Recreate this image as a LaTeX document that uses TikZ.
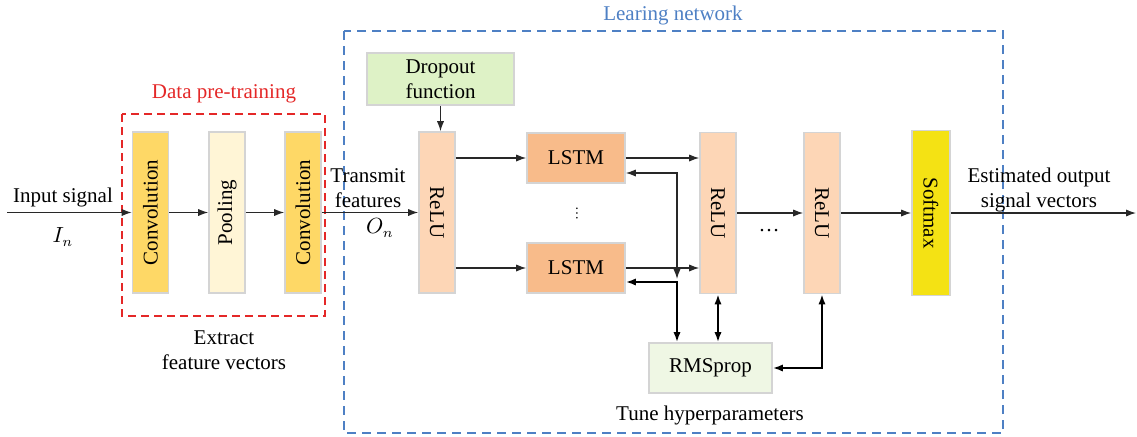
\documentclass[tikz,border=0pt]{standalone}
\usepackage{fontspec}
\setmainfont{Liberation Serif}
\usepackage{graphicx}
\usepackage{tikz}
\usetikzlibrary{arrows.meta}
\definecolor{convgold}{RGB}{254,216,102}
\definecolor{poolcream}{RGB}{255,245,214}
\definecolor{relupeach}{RGB}{253,214,182}
\definecolor{lstmorange}{RGB}{248,187,138}
\definecolor{softyellow}{RGB}{244,226,20}
\definecolor{dropgreen}{RGB}{222,242,198}
\definecolor{rmsgreen}{RGB}{239,247,228}
\definecolor{edgegray}{RGB}{212,212,212}
\definecolor{linegray}{RGB}{40,40,40}
\definecolor{pretrainred}{RGB}{228,40,40}
\definecolor{learnblue}{RGB}{78,128,196}
\tikzset{>={Latex[length=5pt,width=3.6pt]}}
\tikzset{flow/.style={draw=linegray, line width=0.6pt, ->}}
\tikzset{boldflow/.style={draw=black, line width=1pt, <->}}
\tikzset{tallbox/.style={draw=edgegray, line width=0.8pt, inner sep=0pt, minimum width=18pt, minimum height=80.5pt}}
\tikzset{flatbox/.style={draw=edgegray, line width=0.8pt, inner sep=0pt, align=center, minimum width=49pt, minimum height=25pt}}

\begin{document}
\begin{tikzpicture}[x=0.5pt, y=-0.5pt, every node/.style={font=\fontsize{10.5}{12.5}\selectfont}]
  \useasboundingbox (0,0) rectangle (1137,436);
  % frames
  \draw[pretrainred, line width=0.7pt, dash pattern=on 4pt off 2.5pt] (122,114) rectangle (325,316);
  \draw[learnblue, line width=0.7pt, dash pattern=on 4.5pt off 3pt] (344,31) rectangle (1003,433);
  \node[text=pretrainred] (pretitle) at (224,94) {Data pre-training};
  \node[text=learnblue] (nettitle) at (673,15) {Learing network};

  % blocks
  \node[tallbox, fill=convgold] (conv1) at (150.5,212.5) {\rotatebox{90}{Convolution}};
  \node[tallbox, fill=poolcream] (pool) at (227,212.5) {\rotatebox{90}{Pooling}};
  \node[tallbox, fill=convgold] (conv2) at (303,212.5) {\rotatebox{90}{Convolution}};
  \node[tallbox, fill=relupeach] (relu1) at (437,212.5) {\rotatebox{-90}{ReLU}};
  \node[tallbox, fill=relupeach] (relu2) at (718,213) {\rotatebox{-90}{ReLU}};
  \node[tallbox, fill=relupeach] (relu3) at (822,213) {\rotatebox{-90}{ReLU}};
  \node[tallbox, fill=softyellow, minimum width=19pt, minimum height=82.5pt] (soft) at (931,213) {\rotatebox{-90}{Softmax}};
  \node[flatbox, fill=lstmorange] (lstm1) at (576,158) {LSTM};
  \node[flatbox, fill=lstmorange] (lstm2) at (576,268) {LSTM};
  \node[flatbox, fill=dropgreen, minimum width=73.5pt, minimum height=26pt] (drop) at (440.5,79) {Dropout\\function};
  \node[flatbox, fill=rmsgreen, minimum width=61.5pt] (rms) at (710.5,368) {RMSprop};
  \node[font=\fontsize{7}{8}\selectfont] (vdots) at (577,213) {\rotatebox{90}{\dots}};
  \node (hdots) at (769,231) {\dots};

  % labels
  \node (insig) at (63,197) {Input signal};
  \node (inlab) at (63,237) {$I_n$};
  \node[align=center] (trans) at (368,188) {Transmit\\features};
  \node (outlab) at (380,228) {$O_n$};
  \node[align=center] (est) at (1039,190) {Estimated output\\signal vectors};
  \node[align=center] (extract) at (224,350) {Extract\\feature vectors};
  \node (tune) at (710,415) {Tune hyperparameters};

  % connectors
  \coordinate (insrc) at (7,212.5);
  \coordinate (outdst) at (1136,213);
  \coordinate (tap) at (677,282);
  \draw[flow] (insrc) -- (conv1);
  \foreach \a/\b in {conv1/pool, pool/conv2, conv2/relu1, relu2/relu3, relu3/soft, soft/outdst} {
    \draw[flow] (\a) -- (\b);
  }
  \draw[flow] (drop.south) -- (drop.south |- relu1.north);
  \draw[flow] (relu1.east |- lstm1) -- (lstm1);
  \draw[flow] (relu1.east |- lstm2) -- (lstm2);
  \draw[flow] (lstm1) -- (relu2.west |- lstm1);
  \draw[flow] (lstm2) -- (relu2.west |- lstm2);
  \draw[flow, <->] ([yshift=-7.5pt]lstm1.east) -| ([yshift=1.5pt]tap);
  \draw[boldflow] ([yshift=-7pt]lstm2.east) -| (tap |- rms.north);
  \draw[boldflow] (relu2.south) -- (relu2.south |- rms.north);
  \draw[boldflow] (rms.east) -| (relu3.south);
\end{tikzpicture}
\end{document}
